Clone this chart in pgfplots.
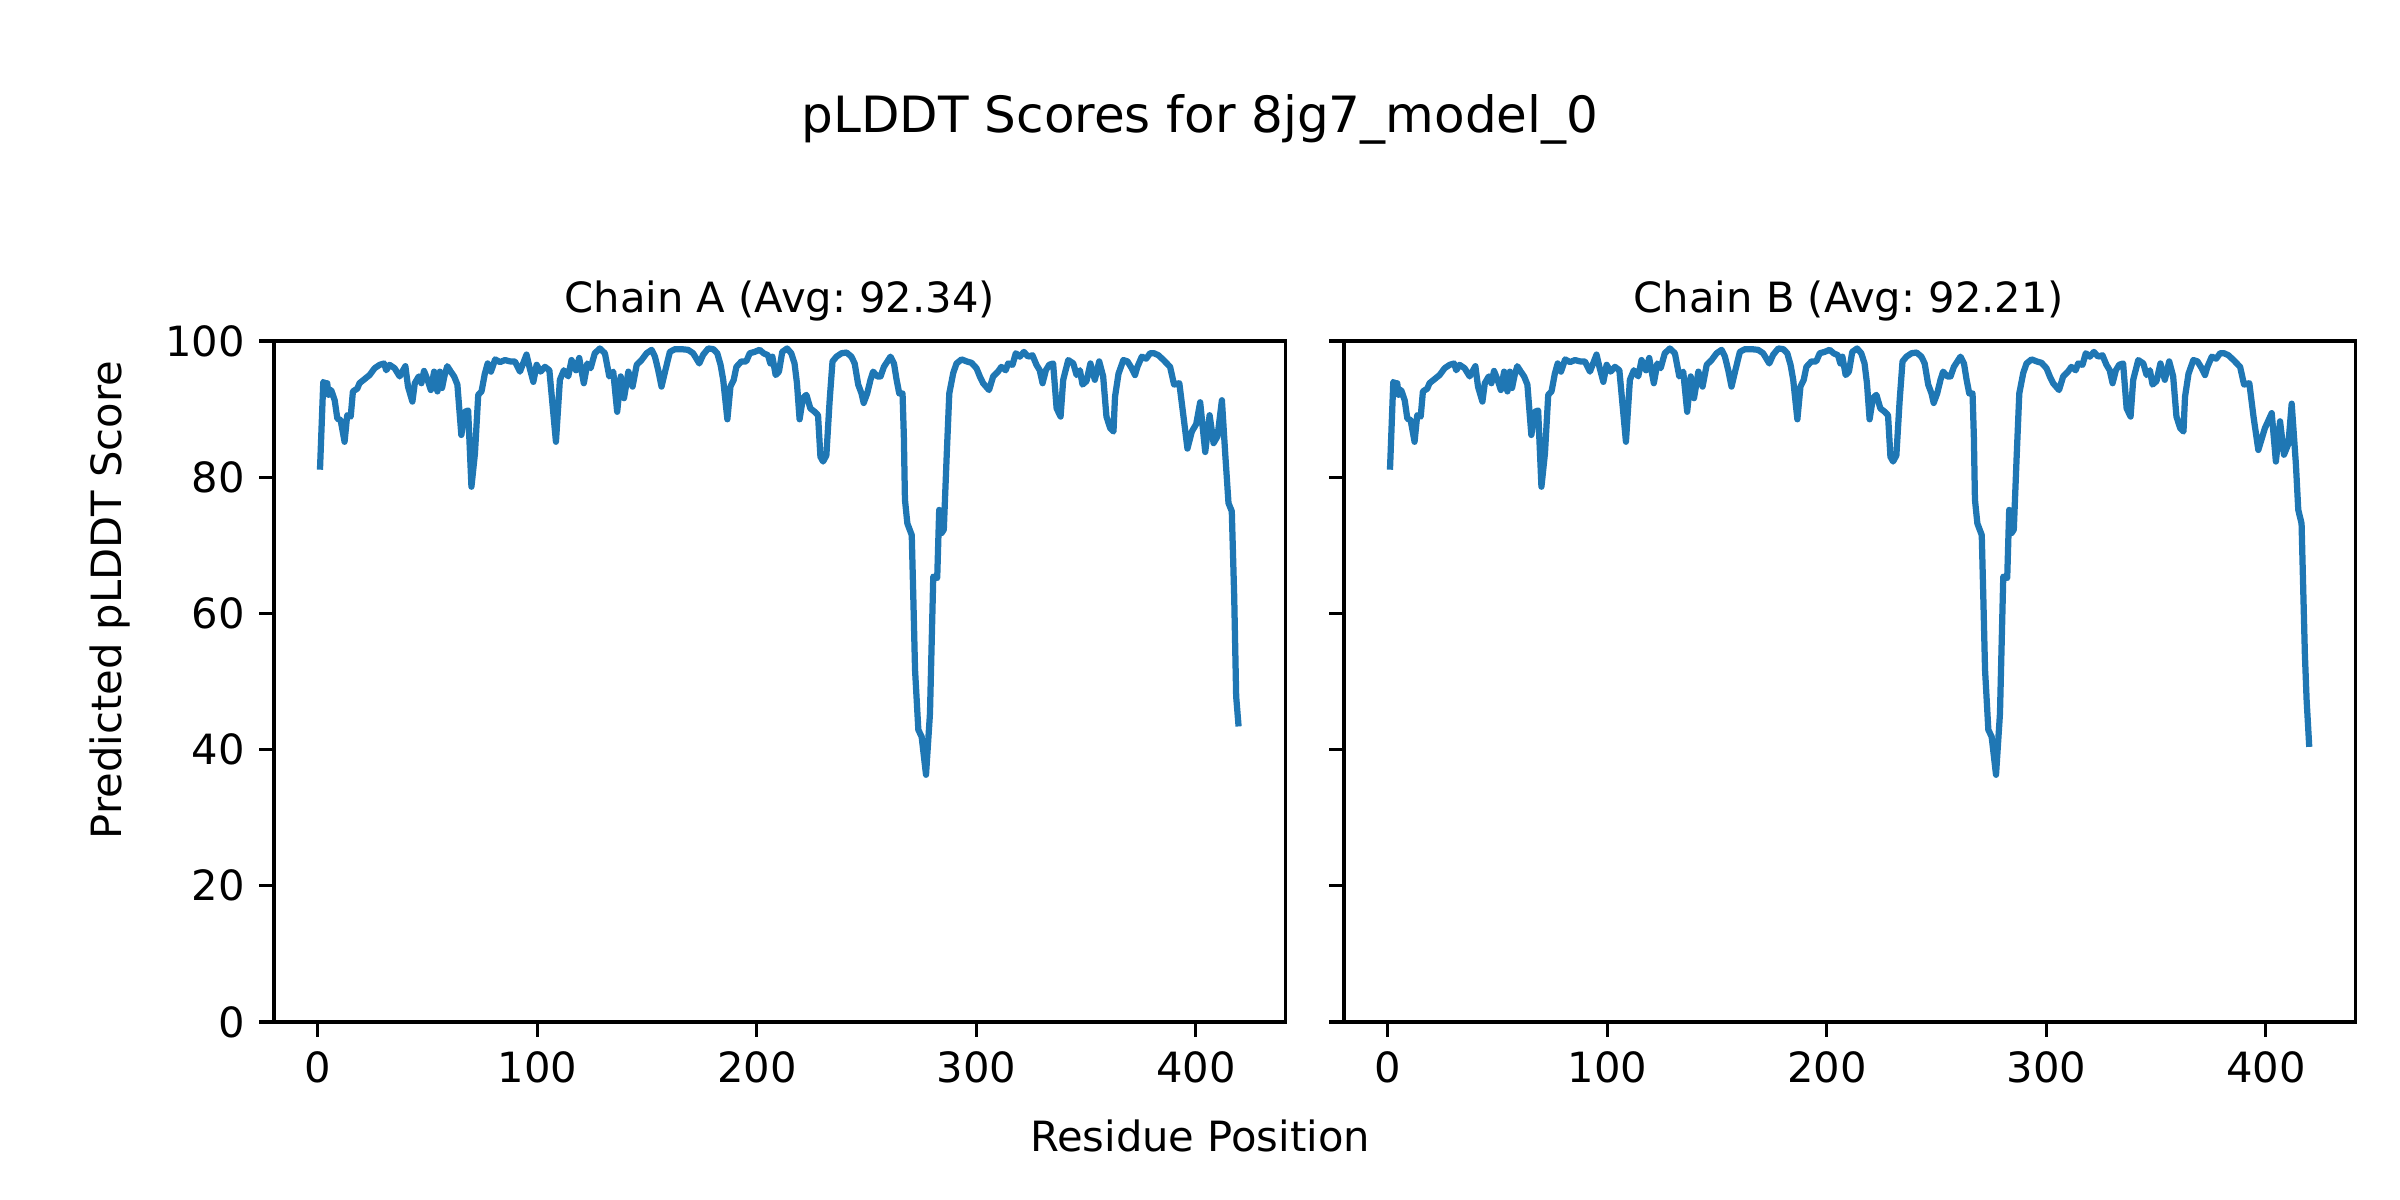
\documentclass[border=0pt]{standalone}
\usepackage{fontspec}
\setmainfont{DejaVu Sans}
\usepackage{pgfplots}
\pgfplotsset{compat=1.18}
\usepackage{pgfplotstable}
\definecolor{mplblue}{HTML}{1F77B4}
\frenchspacing

\pgfplotstableread{
r v
1 81.1
2.5 94.0
3.1 93.8
4.3 93.8
4.9 92.1
6.1 92.8
7.7 91.3
8.9 88.6
10.4 88.4
12.2 85.2
13.4 89.1
15.0 88.9
16.0 92.6
18.0 93.0
19.0 93.8
21.3 94.4
23.6 95.0
25.9 96.0
28.2 96.5
30.2 96.7
31.2 95.7
32.7 96.5
35.0 96.0
37.3 94.8
39.9 96.3
41.1 93.3
43.1 91.1
44.2 93.8
46.0 94.8
47.2 93.8
48.4 95.6
50.0 94.3
51.5 92.8
53.0 95.5
54.5 92.6
55.6 95.5
56.6 93.1
57.8 95.0
59.0 96.3
60.6 95.5
62.1 94.8
63.6 93.6
65.4 86.2
67.0 89.6
68.5 89.8
70.0 78.6
71.6 83.5
73.1 92.1
74.6 92.6
76.1 95.2
77.4 96.7
78.9 95.5
80.8 97.3
83.0 96.9
85.3 97.2
87.6 97.0
89.8 97.0
92.1 95.5
95.1 98.0
96.4 96.2
98.2 94.0
99.7 96.5
101.5 95.5
103.5 96.2
105.5 95.7
108.5 85.2
110.3 94.3
112.1 95.7
114.1 94.8
115.6 97.2
117.6 95.7
119.1 97.5
121.2 93.8
122.8 96.7
124.3 96.0
126.2 98.2
128.5 98.9
130.8 98.2
132.8 94.8
134.6 95.5
136.4 89.6
138.0 94.8
139.5 91.6
141.5 95.5
143.4 93.3
145.3 96.5
147.5 97.2
149.8 98.2
152.1 98.7
153.6 97.7
155.1 95.7
156.6 93.3
158.2 95.5
160.4 98.4
162.7 98.8
165.7 98.8
168.7 98.7
171.0 98.2
173.8 96.7
175.6 98.0
177.9 98.9
180.2 98.8
182.0 98.2
183.5 96.5
184.7 94.3
186.6 88.5
188.0 93.3
189.5 94.3
190.7 96.2
193.0 97.0
195.2 97.0
196.8 98.2
199.0 98.4
201.3 98.7
203.1 98.2
205.1 97.9
206.2 96.7
207.1 97.7
208.6 95.0
210.1 95.5
211.6 98.4
213.8 98.9
215.7 98.2
217.2 96.7
218.3 93.8
219.5 88.5
221.0 91.6
222.6 92.1
224.4 90.1
226.4 89.6
227.9 89.1
229.0 83.0
230.2 82.3
231.7 83.2
233.2 91.3
234.5 97.0
236.3 97.7
238.6 98.2
240.9 98.3
243.1 97.7
244.6 96.7
246.2 93.6
247.7 92.3
248.7 90.9
250.3 92.3
251.8 94.3
253.0 95.5
254.9 94.8
256.4 94.8
257.9 96.2
259.9 97.2
260.9 97.7
262.5 96.7
263.7 94.3
264.9 92.3
266.4 92.3
267.0 86.0
267.5 76.7
268.6 73.2
270.6 71.5
271.3 62.5
272.1 51.7
273.6 42.9
275.1 41.9
277.1 36.3
278.9 45.3
280.4 65.4
282.2 65.2
283.1 75.2
284.2 71.8
285.2 72.3
286.5 83.0
287.7 92.3
289.5 95.3
291.0 96.7
293.3 97.3
295.6 97.0
297.8 96.8
300.1 96.0
301.6 94.8
303.1 93.8
305.8 92.8
307.7 94.8
309.9 95.5
311.4 96.2
313.4 95.7
314.5 96.7
316.5 96.5
318.0 98.2
319.8 97.7
321.7 98.4
323.6 97.7
325.6 97.9
327.4 96.5
328.9 95.7
330.2 93.8
331.7 95.7
333.2 96.5
335.0 96.7
336.6 90.1
338.4 88.9
339.6 94.3
341.9 97.2
344.2 96.7
345.7 95.0
347.2 95.7
348.4 93.6
350.2 94.1
352.0 96.7
354.0 94.3
356.0 97.0
357.8 94.8
359.3 88.9
361.0 87.2
362.5 86.7
363.2 91.8
364.8 95.2
367.0 97.2
368.9 97.0
370.8 96.0
372.3 95.0
373.4 96.2
375.4 97.7
377.4 97.4
379.2 98.2
381.0 98.2
383.0 97.9
385.3 97.2
388.3 96.2
390.1 93.6
392.5 93.8
394.4 88.9
396.2 84.2
398.2 86.7
400.2 87.8
402.0 91.0
404.3 83.7
406.3 89.1
408.1 85.0
409.9 86.0
411.9 91.3
413.4 83.5
414.9 76.2
416.4 75.0
417.5 62.5
418.4 47.8
419.5 43.4
}\chainA

\pgfplotstableread{
r v
1 81.1
2.5 94.0
3.1 93.8
4.3 93.8
4.9 92.1
6.1 92.8
7.7 91.3
8.9 88.6
10.4 88.4
12.2 85.2
13.4 89.1
15.0 88.9
16.0 92.6
18.0 93.0
19.0 93.8
21.3 94.4
23.6 95.0
25.9 96.0
28.2 96.5
30.2 96.7
31.2 95.7
32.7 96.5
35.0 96.0
37.3 94.8
39.9 96.3
41.1 93.3
43.1 91.1
44.2 93.8
46.0 94.8
47.2 93.8
48.4 95.6
50.0 94.3
51.5 92.8
53.0 95.5
54.5 92.6
55.6 95.5
56.6 93.1
57.8 95.0
59.0 96.3
60.6 95.5
62.1 94.8
63.6 93.6
65.4 86.2
67.0 89.6
68.5 89.8
70.0 78.6
71.6 83.5
73.1 92.1
74.6 92.6
76.1 95.2
77.4 96.7
78.9 95.5
80.8 97.3
83.0 96.9
85.3 97.2
87.6 97.0
89.8 97.0
92.1 95.5
95.1 98.0
96.4 96.2
98.2 94.0
99.7 96.5
101.5 95.5
103.5 96.2
105.5 95.7
108.5 85.2
110.3 94.3
112.1 95.7
114.1 94.8
115.6 97.2
117.6 95.7
119.1 97.5
121.2 93.8
122.8 96.7
124.3 96.0
126.2 98.2
128.5 98.9
130.8 98.2
132.8 94.8
134.6 95.5
136.4 89.6
138.0 94.8
139.5 91.6
141.5 95.5
143.4 93.3
145.3 96.5
147.5 97.2
149.8 98.2
152.1 98.7
153.6 97.7
155.1 95.7
156.6 93.3
158.2 95.5
160.4 98.4
162.7 98.8
165.7 98.8
168.7 98.7
171.0 98.2
173.8 96.7
175.6 98.0
177.9 98.9
180.2 98.8
182.0 98.2
183.5 96.5
184.7 94.3
186.6 88.5
188.0 93.3
189.5 94.3
190.7 96.2
193.0 97.0
195.2 97.0
196.8 98.2
199.0 98.4
201.3 98.7
203.1 98.2
205.1 97.9
206.2 96.7
207.1 97.7
208.6 95.0
210.1 95.5
211.6 98.4
213.8 98.9
215.7 98.2
217.2 96.7
218.3 93.8
219.5 88.5
221.0 91.6
222.6 92.1
224.4 90.1
226.4 89.6
227.9 89.1
229.0 83.0
230.2 82.3
231.7 83.2
233.2 91.3
234.5 97.0
236.3 97.7
238.6 98.2
240.9 98.3
243.1 97.7
244.6 96.7
246.2 93.6
247.7 92.3
248.7 90.9
250.3 92.3
251.8 94.3
253.0 95.5
254.9 94.8
256.4 94.8
257.9 96.2
259.9 97.2
260.9 97.7
262.5 96.7
263.7 94.3
264.9 92.3
266.4 92.3
267.0 86.0
267.5 76.7
268.6 73.2
270.6 71.5
271.3 62.5
272.1 51.7
273.6 42.9
275.1 41.9
277.1 36.3
278.9 45.3
280.4 65.4
282.2 65.2
283.1 75.2
284.2 71.8
285.2 72.3
286.5 83.0
287.7 92.3
289.5 95.3
291.0 96.7
293.3 97.3
295.6 97.0
297.8 96.8
300.1 96.0
301.6 94.8
303.1 93.8
305.8 92.8
307.7 94.8
309.9 95.5
311.4 96.2
313.4 95.7
314.5 96.7
316.5 96.5
318.0 98.2
319.8 97.7
321.7 98.4
323.6 97.7
325.6 97.9
327.4 96.5
328.9 95.7
330.2 93.8
331.7 95.7
333.2 96.5
335.0 96.7
336.6 90.1
338.4 88.9
339.6 94.3
341.9 97.2
344.2 96.7
345.7 95.0
347.2 95.7
348.4 93.6
350.2 94.1
352.0 96.7
354.0 94.3
356.0 97.0
357.8 94.8
359.3 88.9
361.0 87.2
362.5 86.7
363.2 91.8
364.8 95.2
367.0 97.2
368.9 97.0
370.8 96.0
372.3 95.0
373.4 96.2
375.4 97.7
377.4 97.4
379.2 98.2
381.0 98.2
383.0 97.9
385.3 97.2
388.3 96.2
390.1 93.6
392.5 93.8
394.4 88.9
396.6 84.0
399.6 87.2
402.7 89.4
404.6 82.3
406.5 88.2
408.3 83.3
410.3 84.9
411.8 90.8
413.7 82.0
414.8 75.2
416.3 73.2
417.8 54.1
418.6 47.3
419.8 40.4
}\chainB

\pgfplotsset{
  pl/.style={
    scale only axis, width=242.8pt, height=163.44pt,
    anchor=south west,
    xmin=-19.95, xmax=440.95, ymin=0, ymax=100,
    xtick={0,100,200,300,400}, ytick={0,20,40,60,80,100},
    xtick pos=bottom, ytick pos=left,
    tick align=outside, major tick length=3.5pt,
    tick style={black, line width=0.8pt},
    axis line style={line width=0.8pt},
    tick label style={font=\fontsize{10}{12}\selectfont},
    /pgf/number format/assume math mode=true,
  }
}

\begin{document}
\begin{tikzpicture}
\path[use as bounding box] (0pt,0pt) rectangle (576pt,-288pt);
\begin{axis}[pl, at={(65.76pt,-245.28pt)}]
\addplot[mplblue, line width=1.5pt, line join=round] table[x=r,y=v]{\chainA};
\end{axis}
\begin{axis}[pl, at={(322.56pt,-245.28pt)}, yticklabels={}]
\addplot[mplblue, line width=1.5pt, line join=round] table[x=r,y=v]{\chainB};
\end{axis}
\node[inner sep=0pt, font=\fontsize{12}{14.4}\selectfont] at (288pt,-28.66pt) {pLDDT Scores for 8jg7\_model\_0};
\node[inner sep=0pt] at (187.16pt,-72.24pt) {Chain A (Avg: 92.34)};
\node[inner sep=0pt] at (443.76pt,-72.24pt) {Chain B (Avg: 92.21)};
\node[inner sep=0pt] at (288pt,-272.64pt) {Residue Position};
\node[inner sep=0pt, rotate=90] at (26.4pt,-144pt) {Predicted pLDDT Score};
\end{tikzpicture}
\end{document}
